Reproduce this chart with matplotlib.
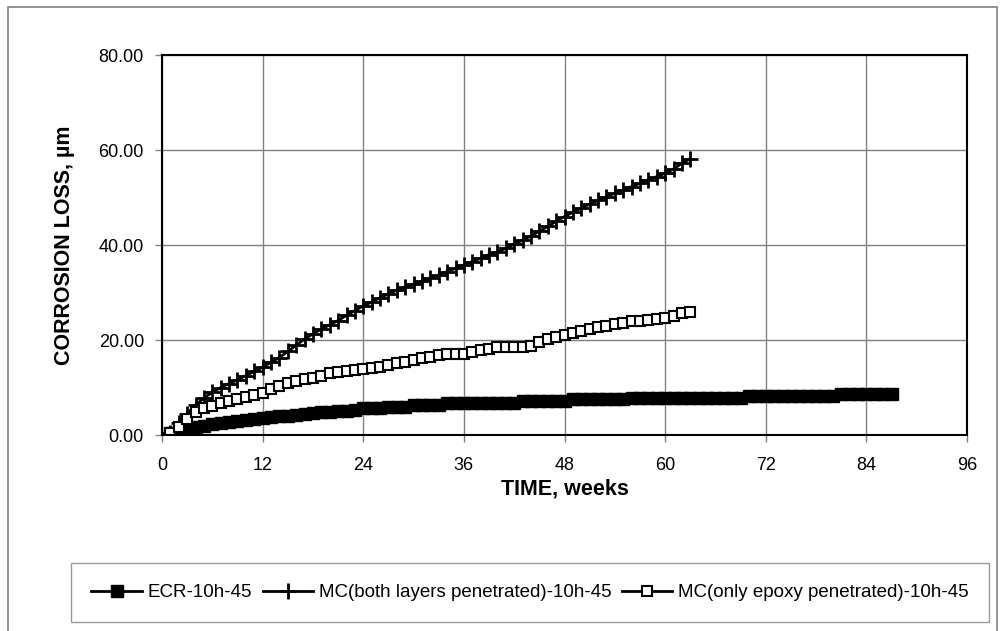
import matplotlib.pyplot as plt
from matplotlib.patches import Rectangle

plt.rcParams['font.family'] = ['Liberation Sans', 'DejaVu Sans']

# ECR-10h-45, weeks 1..87
ecr_weeks = list(range(1, 88))
ecr_loss = [0.4, 0.8, 1.3, 1.7, 2.0, 2.3, 2.6, 2.8, 3.0, 3.2,
            3.3, 3.5, 3.7, 3.9, 4.1, 4.3, 4.5, 4.6, 4.8, 4.9,
            5.1, 5.1, 5.3, 5.6, 5.6, 5.6, 6.0, 6.0, 6.0, 6.3,
            6.3, 6.3, 6.3, 6.8, 6.8, 6.8, 6.8, 6.8, 6.8, 6.8,
            6.8, 6.8, 7.15, 7.15, 7.15, 7.15, 7.15, 7.15, 7.5, 7.5,
            7.5, 7.5, 7.5, 7.5, 7.5, 7.85, 7.85, 7.85, 7.85, 7.85,
            7.85, 7.85, 7.85, 7.85, 7.85, 7.85, 7.85, 7.85, 7.85, 8.27,
            8.27, 8.27, 8.27, 8.27, 8.27, 8.27, 8.27, 8.27, 8.27, 8.27,
            8.69, 8.69, 8.69, 8.69, 8.69, 8.69, 8.69]

# MC(both layers penetrated)-10h-45, weeks 1..63
mc_weeks = list(range(1, 64))
mc_both = [0.5, 2.5, 4.5, 6.3, 7.8, 9.0, 10.0, 10.8, 11.6, 12.5,
           13.4, 14.3, 15.3, 16.3, 17.6, 18.9, 20.2, 21.3, 22.3, 23.2,
           24.1, 25.2, 26.2, 27.2, 28.0, 28.9, 29.7, 30.5, 31.1, 31.8,
           32.4, 33.0, 33.7, 34.4, 35.1, 35.8, 36.5, 37.2, 38.0, 38.6,
           39.3, 40.2, 41.0, 41.9, 42.9, 43.9, 45.0, 46.0, 46.9, 47.8,
           48.6, 49.4, 50.2, 50.9, 51.6, 52.3, 53.0, 53.7, 54.4, 55.1,
           56.0, 57.2, 58.2]

# MC(only epoxy penetrated)-10h-45, weeks 1..63
mc_epoxy = [0.4, 1.7, 3.3, 4.8, 5.6, 6.2, 6.7, 7.1, 7.5, 7.9,
            8.4, 8.9, 9.6, 10.3, 10.9, 11.3, 11.7, 12.1, 12.5, 13.0,
            13.2, 13.4, 13.6, 13.8, 14.1, 14.4, 14.8, 15.1, 15.4, 15.8,
            16.2, 16.5, 16.9, 17.0, 17.0, 17.0, 17.4, 17.8, 18.2, 18.6,
            18.6, 18.6, 18.6, 18.7, 19.6, 20.2, 20.6, 21.0, 21.4, 21.9,
            22.3, 22.7, 23.0, 23.3, 23.6, 23.9, 24.1, 24.3, 24.5, 24.7,
            25.1, 25.6, 26.0]

x_ticks = [0, 12, 24, 36, 48, 60, 72, 84, 96]
y_ticks = [0, 20, 40, 60, 80]

fig = plt.figure(figsize=(10.02, 6.31), dpi=100)
ax = fig.add_axes([0.1617, 0.3106, 0.8034, 0.6022])

# outer chart border
fig.patches.append(Rectangle((8 / 1002, -0.01), 989 / 1002, 1 - 7 / 631 + 0.01,
                             transform=fig.transFigure, fill=False,
                             edgecolor='#808080', linewidth=1.2))

ax.plot(ecr_weeks, ecr_loss, color='black', linewidth=2, marker='s',
        markersize=8, markerfacecolor='black', label='ECR-10h-45')
ax.plot(mc_weeks, mc_both, color='black', linewidth=2, marker='+',
        markersize=11, markeredgewidth=2,
        label='MC(both layers penetrated)-10h-45')
ax.plot(mc_weeks, mc_epoxy, color='black', linewidth=2, marker='s',
        markersize=7, markerfacecolor='white', markeredgewidth=1.5,
        label='MC(only epoxy penetrated)-10h-45')

ax.set_xlim(0, 96)
ax.set_ylim(0, 80)
ax.set_xticks(x_ticks)
ax.set_yticks(y_ticks)
ax.set_yticklabels(['%.2f' % v for v in y_ticks])
ax.grid(True, color='#808080', linewidth=1)
ax.set_axisbelow(True)
for s in ax.spines.values():
    s.set_linewidth(1.5)
ax.tick_params(direction='out', length=5, width=1, labelsize=13,
               pad=8, color='#808080')
ax.tick_params(axis='x', pad=11)

ax.set_xlabel('TIME, weeks', fontsize=15.5, fontweight='bold', labelpad=3)
ax.set_ylabel('CORROSION LOSS, µm', fontsize=15.5, fontweight='bold', labelpad=17)

leg = fig.legend(loc='center', bbox_to_anchor=(0.529, 0.061), ncol=3,
                 fontsize=13.5, frameon=True, fancybox=False,
                 handlelength=2.7, handletextpad=0.3, columnspacing=0.55,
                 borderpad=1.1, borderaxespad=0)
leg.get_frame().set_edgecolor('#808080')
leg.get_frame().set_linewidth(1)

plt.savefig('out.png', dpi=100)
